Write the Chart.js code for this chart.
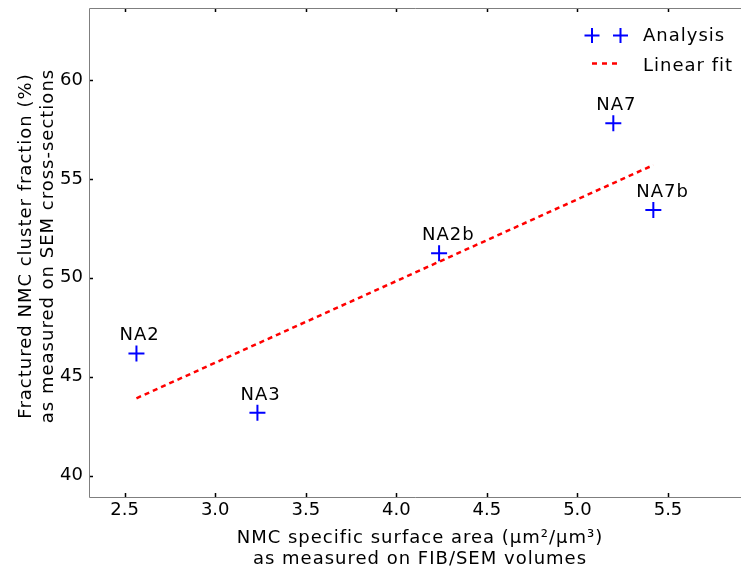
<!DOCTYPE html>
<html>
<head>
<meta charset="utf-8">
<script src="https://cdn.jsdelivr.net/npm/chart.js@4"></script>
<style>
  html, body { margin: 0; padding: 0; background: #fff; }
  #wrap { width: 741px; height: 572px; }
</style>
</head>
<body>
<div id="wrap"><canvas id="chart" width="741" height="572"></canvas></div>
<script>
// sample names and measured values
const sampleNames = ['NA2', 'NA3', 'NA2b', 'NA7', 'NA7b'];
const surfaceArea = [2.565, 3.233, 4.236, 5.198, 5.419];
const fracturedPct = [46.18, 43.18, 51.24, 57.81, 53.43];

// linear fit end points
const fitX = [2.565, 5.419];
const fitY = [43.91, 55.70];

const xTicks = [2.5, 3.0, 3.5, 4.0, 4.5, 5.0, 5.5];
const yTicks = [40, 45, 50, 55, 60];

const xTitle = ['NMC specific surface area (\u03bcm\u00b2/\u03bcm\u00b3)', 'as measured on FIB/SEM volumes'];
const yTitle = ['Fractured NMC cluster fraction (%)', 'as measured on SEM cross-sections'];

const FONT = 'DejaVu Sans';
const TEXT_FONT = '18px "' + FONT + '"';

// frame, inward ticks, titles, point labels, legend
const decorPlugin = {
    id: 'decor',
    afterDraw(chart) {
        const ctx = chart.ctx;
        const xs = chart.scales.x, ys = chart.scales.y;
        const a = chart.chartArea;
        ctx.save();

        // inward tick marks
        ctx.strokeStyle = '#000';
        ctx.lineWidth = 1.5;
        xTicks.forEach(v => {
            const px = Math.round(xs.getPixelForValue(v)) + 0.5;
            ctx.beginPath();
            ctx.moveTo(px, a.bottom); ctx.lineTo(px, a.bottom - 4);
            ctx.moveTo(px, a.top); ctx.lineTo(px, a.top + 4);
            ctx.stroke();
        });
        yTicks.forEach(v => {
            const py = Math.round(ys.getPixelForValue(v)) + 0.5;
            ctx.beginPath();
            ctx.moveTo(a.left, py); ctx.lineTo(a.left + 4, py);
            ctx.stroke();
        });

        // frame (right spine is outside the picture)
        ctx.strokeStyle = '#7f7f7f';
        ctx.lineWidth = 1;
        const L = Math.round(a.left) + 0.5, T = Math.round(a.top) + 0.5, B = Math.round(a.bottom) + 0.5;
        ctx.beginPath();
        ctx.moveTo(a.right, T); ctx.lineTo(L, T); ctx.lineTo(L, B); ctx.lineTo(a.right, B);
        ctx.stroke();

        ctx.fillStyle = '#000';
        ctx.font = TEXT_FONT;
        ctx.letterSpacing = '1px';
        ctx.textBaseline = 'alphabetic';

        // sample labels
        ctx.textAlign = 'left';
        sampleNames.forEach((n, i) => {
            const px = xs.getPixelForValue(surfaceArea[i]);
            const py = ys.getPixelForValue(fracturedPct[i]);
            ctx.fillText(n, px - 17, py - 13);
        });

        // axis titles
        ctx.textAlign = 'center';
        ctx.fillText(xTitle[0], 420, 543);
        ctx.fillText(xTitle[1], 420, 564);
        ctx.save();
        ctx.translate(31, 246);
        ctx.rotate(-Math.PI / 2);
        ctx.fillText(yTitle[0], 0, 0);
        ctx.fillText(yTitle[1], 0, 22);
        ctx.restore();

        // legend
        ctx.strokeStyle = '#0000ff';
        ctx.lineWidth = 2;
        [592, 620.5].forEach(cx => {
            ctx.beginPath();
            ctx.moveTo(cx - 7.5, 35.5); ctx.lineTo(cx + 7.5, 35.5);
            ctx.moveTo(cx, 28); ctx.lineTo(cx, 43);
            ctx.stroke();
        });
        ctx.strokeStyle = '#ff0000';
        ctx.lineWidth = 2.5;
        ctx.setLineDash([5, 5]);
        ctx.beginPath();
        ctx.moveTo(592, 63.5); ctx.lineTo(618, 63.5);
        ctx.stroke();
        ctx.setLineDash([]);
        ctx.textAlign = 'left';
        ctx.fillText('Analysis', 643, 41);
        ctx.fillText('Linear fit', 643, 71);

        ctx.restore();
    }
};

new Chart(document.getElementById('chart'), {
    type: 'scatter',
    data: {
        datasets: [
            {
                label: 'Linear fit',
                type: 'line',
                data: fitX.map((x, i) => ({ x, y: fitY[i] })),
                borderColor: '#ff0000',
                borderWidth: 2.5,
                borderDash: [5, 4],
                pointRadius: 0,
                fill: false
            },
            {
                label: 'Analysis',
                data: surfaceArea.map((x, i) => ({ x, y: fracturedPct[i] })),
                pointStyle: 'cross',
                pointRadius: 8,
                borderColor: '#0000ff',
                backgroundColor: '#0000ff',
                borderWidth: 2
            }
        ]
    },
    options: {
        responsive: false,
        animation: false,
        devicePixelRatio: 1,
        layout: { autoPadding: false, padding: { top: 8, right: 0, left: 0, bottom: 0 } },
        plugins: { legend: { display: false }, tooltip: { enabled: false } },
        scales: {
            x: {
                type: 'linear',
                min: 2.303,
                max: 5.903,
                afterBuildTicks: s => { s.ticks = xTicks.map(v => ({ value: v })); },
                afterFit: s => { s.height = 75; s.paddingLeft = 0; s.paddingRight = 0; },
                grid: { display: false, drawTicks: false },
                border: { display: false },
                ticks: {
                    color: '#000',
                    font: { family: FONT, size: 18 },
                    padding: 3,
                    maxRotation: 0,
                    callback: v => v.toFixed(1)
                }
            },
            y: {
                type: 'linear',
                min: 38.92,
                max: 63.64,
                afterBuildTicks: s => { s.ticks = yTicks.map(v => ({ value: v })); },
                afterFit: s => { s.width = 89; s.paddingTop = 0; s.paddingBottom = 0; },
                grid: { display: false, drawTicks: false },
                border: { display: false },
                ticks: {
                    color: '#000',
                    font: { family: FONT, size: 18 },
                    padding: 6,
                    callback: v => String(v)
                }
            }
        }
    },
    plugins: [decorPlugin]
});
</script>
</body>
</html>
